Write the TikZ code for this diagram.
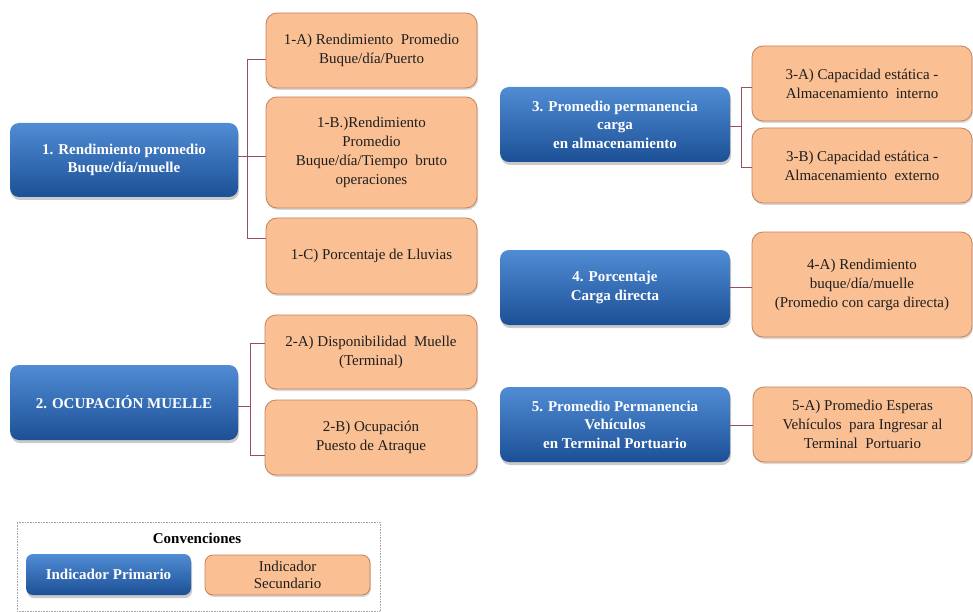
\documentclass[tikz,border=0pt]{standalone}
\usepackage{fontspec}
\setmainfont{Liberation Serif}
\usetikzlibrary{shadows}
\definecolor{bluetop}{RGB}{80,140,212}
\definecolor{bluebot}{RGB}{28,80,150}
\definecolor{orfill}{RGB}{250,192,148}
\definecolor{ordraw}{RGB}{196,128,92}
\definecolor{conn}{RGB}{150,80,95}
\definecolor{txt}{RGB}{30,30,30}
\begin{document}
\begin{tikzpicture}[x=1pt,y=-1pt,
  prim/.style={rounded corners=9pt, top color=bluetop, bottom color=bluebot, text=white,
    font=\fontsize{15}{18.5}\selectfont\bfseries, align=center, inner sep=2pt,
    drop shadow={shadow xshift=1pt, shadow yshift=-3pt, opacity=0.35, fill=black!60}},
  sec/.style={rounded corners=11pt, fill=orfill, draw=ordraw, line width=0.8pt, text=txt,
    font=\fontsize{15}{19}\selectfont, align=center, inner sep=2pt,
    drop shadow={shadow xshift=1pt, shadow yshift=-2pt, opacity=0.25, fill=black!60}},
  link/.style={draw=conn, line width=0.8pt},
  leg/.style={draw=gray!70, densely dotted, line width=0.6pt}]
\useasboundingbox (0,0) rectangle (973,612);

% primary indicators
\node[prim, minimum width=228pt, minimum height=74pt] (n1) at (124,160) {1. Rendimiento promedio\\Buque/día/muelle};
\node[prim, minimum width=228pt, minimum height=75pt] (n2) at (124,402.5) {2. OCUPACIÓN MUELLE};
\node[prim, minimum width=230pt, minimum height=75pt] (n3) at (615,124.5) {3. Promedio permanencia\\carga\\en almacenamiento};
\node[prim, minimum width=230pt, minimum height=75pt] (n4) at (615,287.5) {4. Porcentaje\\Carga directa};
\node[prim, minimum width=230pt, minimum height=75pt] (n5) at (615,424.5) {5. Promedio Permanencia\\Vehículos\\en Terminal Portuario};

% secondary indicators
\node[sec, minimum width=211pt, minimum height=75pt] (a1A) at (371.5,50.5) {1-A) Rendimiento\ \ Promedio\\Buque/día/Puerto};
\node[sec, minimum width=211pt, minimum height=111pt] (a1B) at (371.5,152.5) {1-B.)Rendimiento\\Promedio\\Buque/día/Tiempo\ \ bruto\\operaciones};
\node[sec, minimum width=211pt, minimum height=76pt] (a1C) at (371.5,256) {1-C) Porcentaje de Lluvias};
\node[sec, minimum width=212pt, minimum height=74pt] (a2A) at (371,352) {2-A) Disponibilidad\ \ Muelle\\(Terminal)};
\node[sec, minimum width=212pt, minimum height=75pt] (a2B) at (371,437.5) {2-B) Ocupación\\Puesto de Atraque};
\node[sec, minimum width=220pt, minimum height=75pt] (a3A) at (862,83.5) {3-A) Capacidad estática -\\Almacenamiento\ \ interno};
\node[sec, minimum width=220pt, minimum height=75pt] (a3B) at (862,165.5) {3-B) Capacidad estática -\\Almacenamiento\ \ externo};
\node[sec, minimum width=220pt, minimum height=105pt] (a4A) at (862,284.5) {4-A) Rendimiento\\buque/día/muelle\\(Promedio con carga directa)};
\node[sec, minimum width=219pt, minimum height=75pt] (a5A) at (862.5,424.5) {5-A) Promedio Esperas\\Vehículos\ \ para Ingresar al\\Terminal\ \ Portuario};

% connectors group 1
\coordinate (b1t) at (247,59);
\coordinate (b1b) at (247,238);
\draw[link] (a1A.west |- b1t) -- (b1t) -- (b1b) -- (a1C.west |- b1b);
\coordinate (b1m) at (238,156);
\draw[link] (n1.east |- b1m) -- (a1B.west |- b1m);
% group 2
\coordinate (b2t) at (250,343);
\coordinate (b2b) at (250,455);
\coordinate (b2m) at (250,406);
\draw[link] (a2A.west |- b2t) -- (b2t) -- (b2b) -- (a2B.west |- b2b);
\draw[link] (n2.east |- b2m) -- (b2m);
% group 3
\coordinate (b3t) at (741,87);
\coordinate (b3b) at (741,167);
\coordinate (b3m) at (741,126);
\draw[link] (a3A.west |- b3t) -- (b3t) -- (b3b) -- (a3B.west |- b3b);
\draw[link] (n3.east |- b3m) -- (b3m);
% group 4, 5
\coordinate (b4m) at (741,287);
\draw[link] (n4.east |- b4m) -- (a4A.west |- b4m);
\coordinate (b5m) at (741,425);
\draw[link] (n5.east |- b5m) -- (a5A.west |- b5m);

% legend
\node[leg, minimum width=363pt, minimum height=89pt] (legbox) at (198.5,566.5) {};
\node[font=\fontsize{15}{18}\selectfont\bfseries, text=black] (legt) at (197,538) {Convenciones};
\node[prim, rounded corners=7pt, minimum width=165pt, minimum height=41pt] (lp) at (108.5,574.5) {Indicador Primario};
\node[sec, rounded corners=8pt, minimum width=165pt, minimum height=40pt, font=\fontsize{15}{17}\selectfont] (ls) at (287.5,575) {Indicador\\Secundario};
\end{tikzpicture}
\end{document}
